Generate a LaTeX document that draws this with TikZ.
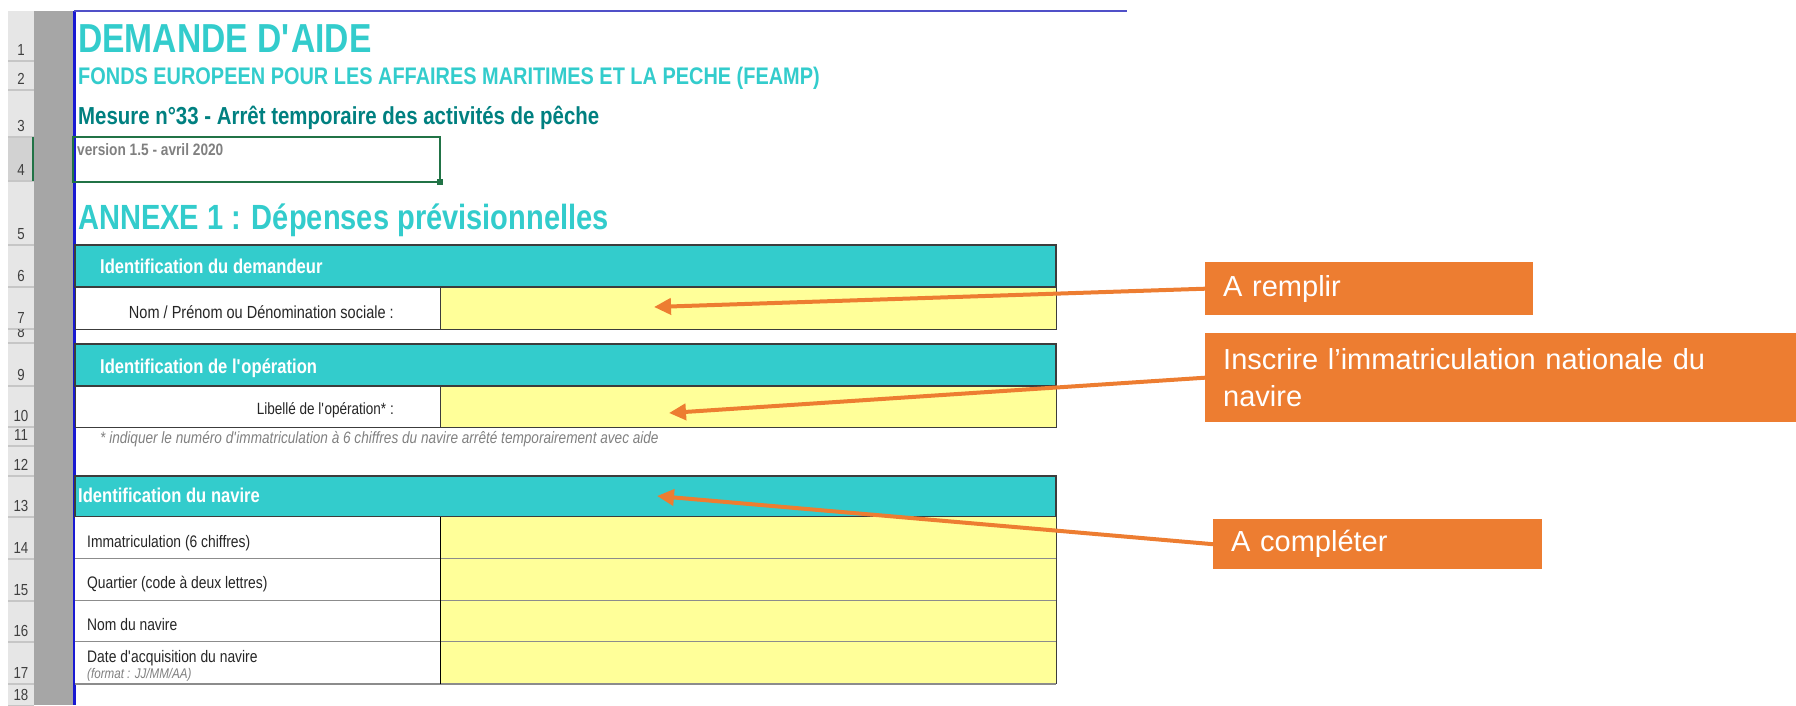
\documentclass[tikz,border=0pt]{standalone}
\usepackage{fontspec}
\setmainfont{Liberation Sans}
\newfontfamily\xlfont[FakeStretch=0.83]{Liberation Sans}
\usetikzlibrary{arrows.meta}

\definecolor{xlteal}{RGB}{51,204,204}
\definecolor{xldarkteal}{RGB}{0,128,128}
\definecolor{xlyellow}{RGB}{255,255,153}
\definecolor{xlgreen}{RGB}{33,115,70}
\definecolor{xlblue}{RGB}{25,25,210}
\definecolor{xltopline}{RGB}{80,80,200}
\definecolor{rowhead}{RGB}{230,230,230}
\definecolor{rowsel}{RGB}{210,210,210}
\definecolor{rowline}{RGB}{198,198,198}
\definecolor{sheetgray}{RGB}{166,166,166}
\definecolor{cellline}{RGB}{60,60,60}
\definecolor{notegray}{RGB}{128,128,128}
\definecolor{callorange}{RGB}{237,125,49}

\newcommand\xlsize[1]{\xlfont\fontsize{#1}{#1}\selectfont}

\tikzset{
  xltext/.style={inner sep=0pt, anchor=base west},
  hdr/.style={fill=xlteal, draw=cellline, line width=1.5pt},
  hdrtxt/.style={xltext, text=white, font=\xlsize{20}\bfseries},
  lbl/.style={fill=white, draw=cellline, line width=1pt},
  inp/.style={fill=xlyellow, draw=cellline, line width=1pt},
  lbltxt/.style={xltext, text=black!85, font=\xlsize{16.7}},
  rownum/.style={inner sep=0pt, text=black!75, font=\xlsize{16}},
  callout/.style={fill=callorange, text=white, anchor=north west, inner xsep=18pt,
    inner ysep=0pt, align=left, font=\fontsize{29}{37}\selectfont},
  pointer/.style={draw=callorange, line width=4pt, -{Triangle[length=17pt,width=16pt]}},
}

\begin{document}
\begin{tikzpicture}[x=1pt, y=-1pt]
  \useasboundingbox (0,0) rectangle (1796,705);

  % sheet margin and row headers
  \fill[sheetgray] (34,11) rectangle (73,705);
  \fill[rowhead] (8,11) rectangle (34,705);
  \fill[rowsel] (8,137) rectangle (34,181);
  \foreach \n/\top/\bot in {1/11/61, 2/61/90, 3/90/137, 4/137/181, 5/181/245, 6/245/287,
      7/287/329, 8/329/343, 9/343/386, 10/386/427, 11/427/446, 12/446/476, 13/476/517,
      14/517/559, 15/559/601, 16/601/642, 17/642/684, 18/684/706} {
    \begin{scope}
      \clip (8,\top) rectangle (34,\bot);
      \node[rownum, anchor=base] (r\n) at (21,\bot-6) {\n};
    \end{scope}
    \draw[rowline, line width=1.2pt] (8,\bot) -- (34,\bot);
  }
  \draw[xlgreen, line width=2pt] (33,137) -- (33,181);
  \draw[xlblue, line width=2.5pt] (74.5,11) -- (74.5,705);
  \draw[xltopline, line width=2.2pt] (74,11) -- (1127,11);

  % titles
  \node[xltext, text=xlteal, font=\xlsize{40.5}\bfseries] (titre) at (78,52) {DEMANDE D\textquotesingle AIDE};
  \node[xltext, text=xlteal, font=\xlsize{24}\bfseries] (fonds) at (78,84)
    {FONDS EUROPEEN POUR LES AFFAIRES MARITIMES ET LA PECHE (FEAMP)};
  \node[xltext, text=xldarkteal, font=\xlsize{24.6}\bfseries] (mesure) at (78,124)
    {Mesure n°33 - Arrêt temporaire des activités de pêche};
  \draw[xlgreen, line width=2pt] (73,137) rectangle (440,182);
  \fill[xlgreen] (437,179) rectangle (443,185);
  \node[xltext, text=notegray, font=\xlsize{16.5}\bfseries] (version) at (77,155) {version 1.5 - avril 2020};
  \node[xltext, text=xlteal, font=\xlsize{35}\bfseries] (annexe) at (78,229)
    {ANNEXE 1 : Dépenses prévisionnelles};

  % demandeur
  \draw[hdr] (75,245) rectangle (1056,287);
  \node[hdrtxt] (hdem) at (100,273) {Identification du demandeur};
  \draw[lbl] (75,287) rectangle (440,329);
  \draw[inp] (440,287) rectangle (1056,329);
  \node[lbltxt, anchor=base east, font=\xlsize{17.5}] (nom) at (394,318) {Nom / Prénom ou Dénomination sociale :};

  % operation
  \draw[hdr] (75,344) rectangle (1056,386);
  \node[hdrtxt] (hop) at (100,373) {Identification de l\textquotesingle opération};
  \draw[lbl] (75,386) rectangle (440,427);
  \draw[inp] (440,386) rectangle (1056,427);
  \node[lbltxt, anchor=base east, font=\xlsize{16.3}] (libelle) at (394,414) {Libellé de l\textquotesingle opération* :};
  \node[xltext, text=notegray, font=\xlsize{16.4}\itshape] (note) at (100,443)
    {* indiquer le numéro d\textquotesingle immatriculation à 6 chiffres du navire arrêté temporairement avec aide};

  % navire
  \draw[hdr] (75,476) rectangle (1056,517);
  \node[hdrtxt] (hnav) at (78,502) {Identification du navire};
  \foreach \top/\bot/\base/\txt/\nm in {517/559/547/{Immatriculation (6 chiffres)}/immat,
      559/601/588/{Quartier (code à deux lettres)}/quartier, 601/642/630/{Nom du navire}/nomnav,
      642/684/662/{Date d\textquotesingle acquisition du navire}/date} {
    \fill[white] (75,\top) rectangle (440,\bot);
    \fill[xlyellow] (440,\top) rectangle (1056,\bot);
    \draw[black!45, line width=1.2pt] (75,\bot) -- (1056,\bot);
    \node[lbltxt] (\nm) at (87,\base) {\txt};
  }
  \node[xltext, text=notegray, font=\xlsize{14}\itshape] (format) at (87,678) {(format : JJ/MM/AA)};
  \draw[black, line width=1pt] (440,517) -- (440,684);
  \draw[cellline, line width=1pt] (1056,517) -- (1056,684);

  % callouts
  \node[callout, text width=292pt, minimum height=53pt] (rempl) at (1205,262) {A remplir};
  \node[callout, text width=555pt, minimum height=89pt] (inscr) at (1205,333)
    {Inscrire l’immatriculation nationale du\\navire};
  \node[callout, text width=293pt, minimum height=50pt] (compl) at (1213,519) {A compléter};

  \coordinate (tipnom) at (654,307);
  \coordinate (tiplib) at (669,413);
  \coordinate (tipnav) at (657,496);
  \draw[pointer] (rempl.west) -- (tipnom);
  \draw[pointer] (inscr.west) -- (tiplib);
  \draw[pointer] (compl.west) -- (tipnav);
\end{tikzpicture}
\end{document}
